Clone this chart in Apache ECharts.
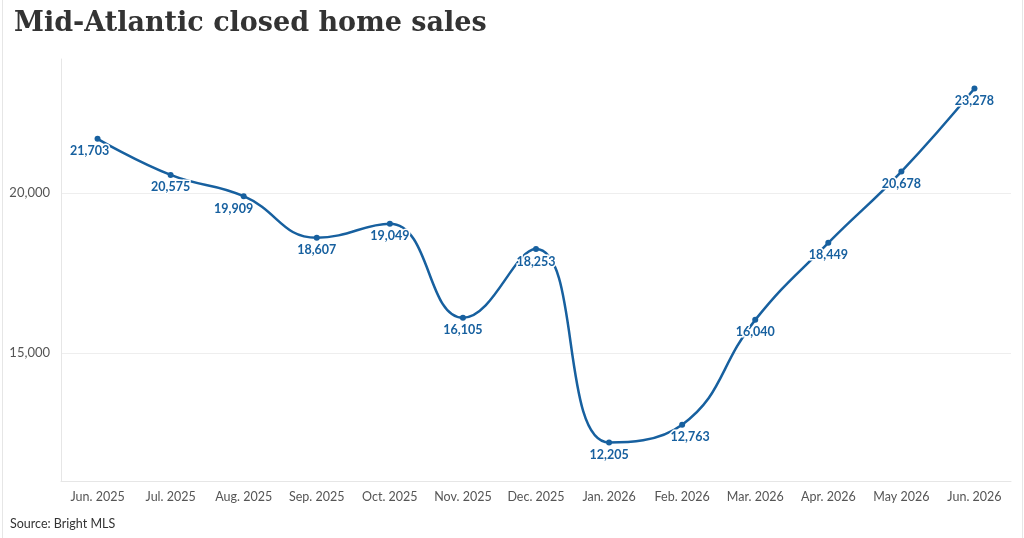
<!DOCTYPE html>
<html>
  <head>
    <meta charset="utf-8" />
    <title>Mid-Atlantic closed home sales</title>
    <script src="https://cdn.jsdelivr.net/npm/echarts@6.0.0/dist/echarts.min.js"></script>
    <style>
      html, body { margin: 0; padding: 0; background: #fff; }
      #wrap { position: relative; width: 1024px; height: 538px; }
      #wrap:before, #wrap:after {
        content: ''; position: absolute; top: 0; bottom: 0; width: 1px; background: #e6e6e6;
      }
      #wrap:before { left: 2px; }
      #wrap:after { left: 1022px; }
      #main { width: 1024px; height: 538px; }
    </style>
  </head>
  <body>
    <div id="wrap"><div id="main"></div></div>

    <script type="text/javascript">
      // months shown on the x axis
      const months = [
        'Jun. 2025', 'Jul. 2025', 'Aug. 2025', 'Sep. 2025', 'Oct. 2025', 'Nov. 2025', 'Dec. 2025',
        'Jan. 2026', 'Feb. 2026', 'Mar. 2026', 'Apr. 2026', 'May 2026', 'Jun. 2026'
      ]
      // closed sales per month
      const sales = [21703, 20575, 19909, 18607, 19049, 16105, 18253, 12205, 12763, 16040, 18449, 20678, 23278]
      // y ticks that carry a label and a grid line
      const yTicks = [15000, 20000]

      // small nudges so the labels sit like the original
      const labelShift = { 0: [-8, 0], 2: [-10, 0], 8: [8, 0] }

      const blue = '#17609f'

      var myChart = echarts.init(document.getElementById('main'))

      const option = {
        animation: false,
        title: {
          text: 'Mid-Atlantic closed home sales',
          left: 9,
          top: 5,
          textStyle: {
            fontFamily: 'DejaVu Serif',
            fontWeight: 'bold',
            fontSize: 27,
            color: '#333',
          },
        },
        graphic: [
          {
            type: 'text',
            left: 10,
            top: 517,
            style: { text: 'Source: Bright MLS', font: '12.5px Lato', fill: '#333' },
          },
        ],
        grid: { left: 61, right: 13, top: 59, bottom: 57 },
        xAxis: {
          type: 'category',
          data: months,
          boundaryGap: true,
          axisLine: { lineStyle: { color: '#e6e6e6' } },
          axisTick: { alignWithLabel: true, length: 6, lineStyle: { color: '#eeeeee' } },
          axisLabel: { color: '#555', fontFamily: 'Lato', fontSize: 12.5, margin: 9, interval: 0 },
        },
        yAxis: {
          type: 'value',
          min: 11000,
          max: 24200,
          axisLine: { show: true, lineStyle: { color: '#e6e6e6' } },
          axisTick: { show: false, customValues: yTicks },
          axisLabel: {
            customValues: yTicks,
            color: '#555',
            fontFamily: 'Lato',
            fontSize: 13,
            margin: 11,
            formatter: (v) => v.toLocaleString('en-US'),
          },
          splitLine: { show: true, lineStyle: { color: '#eeeeee' } },
        },
        series: [
          {
            type: 'line',
            data: sales.map((v, i) => ({
              value: v,
              label: labelShift[i] ? { offset: labelShift[i] } : undefined,
            })),
            smooth: 0.45,
            symbol: 'circle',
            symbolSize: 6,
            lineStyle: { color: blue, width: 2.5 },
            itemStyle: { color: blue },
            label: {
              show: true,
              position: 'bottom',
              distance: 3,
              color: blue,
              fontFamily: 'Lato',
              fontWeight: 'bold',
              fontSize: 12.5,
              textBorderColor: '#fff',
              textBorderWidth: 3,
              formatter: (p) => p.value.toLocaleString('en-US'),
            },
          },
        ],
      }

      myChart.setOption(option)
    </script>
  </body>
</html>
